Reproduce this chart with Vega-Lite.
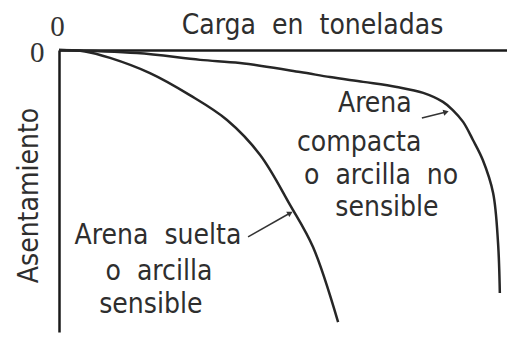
{
  "$schema": "https://vega.github.io/schema/vega-lite/v6.json",
  "width": 448,
  "height": 282,
  "autosize": "none",
  "padding": {"left": 59, "top": 50, "right": 0, "bottom": 6},
  "background": "white",
  "config": {"view": {"stroke": null}},
  "datasets": {
    "curvas": [
      {"curva": "suelta", "orden": 0, "carga": 0, "asentamiento": 0},
      {"curva": "suelta", "orden": 1, "carga": 5.8, "asentamiento": 0.5},
      {"curva": "suelta", "orden": 2, "carga": 11.4, "asentamiento": 2.8},
      {"curva": "suelta", "orden": 3, "carga": 20.3, "asentamiento": 8.2},
      {"curva": "suelta", "orden": 4, "carga": 29.2, "asentamiento": 16.0},
      {"curva": "suelta", "orden": 5, "carga": 37.5, "asentamiento": 24.8},
      {"curva": "suelta", "orden": 6, "carga": 44.9, "asentamiento": 37.2},
      {"curva": "suelta", "orden": 7, "carga": 51.6, "asentamiento": 55.0},
      {"curva": "suelta", "orden": 8, "carga": 56.7, "asentamiento": 69.9},
      {"curva": "suelta", "orden": 9, "carga": 62.3, "asentamiento": 96.5},
      {"curva": "compacta", "orden": 0, "carga": 0, "asentamiento": 0},
      {"curva": "compacta", "orden": 1, "carga": 17.4, "asentamiento": 1.1},
      {"curva": "compacta", "orden": 2, "carga": 31.5, "asentamiento": 3.5},
      {"curva": "compacta", "orden": 3, "carga": 40.4, "asentamiento": 4.6},
      {"curva": "compacta", "orden": 4, "carga": 53.8, "asentamiento": 7.8},
      {"curva": "compacta", "orden": 5, "carga": 60.5, "asentamiento": 9.6},
      {"curva": "compacta", "orden": 6, "carga": 67.9, "asentamiento": 11.3},
      {"curva": "compacta", "orden": 7, "carga": 75.4, "asentamiento": 13.1},
      {"curva": "compacta", "orden": 8, "carga": 81.3, "asentamiento": 15.2},
      {"curva": "compacta", "orden": 9, "carga": 85.7, "asentamiento": 18.4},
      {"curva": "compacta", "orden": 10, "carga": 87.9, "asentamiento": 21.3},
      {"curva": "compacta", "orden": 11, "carga": 90.2, "asentamiento": 25.5},
      {"curva": "compacta", "orden": 12, "carga": 92.4, "asentamiento": 31.9},
      {"curva": "compacta", "orden": 13, "carga": 94.6, "asentamiento": 39.0},
      {"curva": "compacta", "orden": 14, "carga": 96.9, "asentamiento": 50.7},
      {"curva": "compacta", "orden": 15, "carga": 98.0, "asentamiento": 68.4},
      {"curva": "compacta", "orden": 16, "carga": 98.4, "asentamiento": 86.2}
    ],
    "textos": [
      {"texto": "Arena", "carga": 70.5, "asentamiento": 19.3},
      {"texto": "compacta", "carga": 67.0, "asentamiento": 33.0},
      {"texto": "o\u00a0 arcilla\u00a0 no", "carga": 71.9, "asentamiento": 44.7},
      {"texto": "sensible", "carga": 73.2, "asentamiento": 56.0},
      {"texto": "Arena\u00a0 suelta", "carga": 22.1, "asentamiento": 66.0},
      {"texto": "o\u00a0 arcilla", "carga": 22.3, "asentamiento": 78.7},
      {"texto": "sensible", "carga": 20.5, "asentamiento": 90.4}
    ],
    "flechas": [
      {"carga": 42.2, "asentamiento": 66.3, "carga2": 51.6, "asentamiento2": 57.8, "angulo": 330},
      {"carga": 81.0, "asentamiento": 24.1, "carga2": 86.4, "asentamiento2": 22.0, "angulo": 345}
    ]
  },
  "layer": [
    {
      "data": {"name": "curvas"},
      "mark": {"type": "line", "interpolate": "catmull-rom", "color": "#262626", "strokeWidth": 2.5},
      "encoding": {
        "x": {
          "field": "carga", "type": "quantitative",
          "scale": {"domain": [0, 100], "nice": false},
          "axis": {
            "orient": "top", "values": [0], "grid": false, "ticks": false,
            "domainColor": "#1a1a1a", "domainWidth": 2.5, "labelFlush": false,
            "labelFont": "Liberation Serif", "labelFontSize": 29, "labelColor": "#333",
            "labelPadding": 15, "labelBaseline": "alphabetic", "labelOffset": -2,
            "title": "Carga\u00a0 en\u00a0 toneladas", "titleFont": "DejaVu Sans Condensed",
            "titleFontSize": 28, "titleFontWeight": "normal", "titleColor": "#2e2e2e",
            "titleX": 253, "titleY": -25, "titleBaseline": "middle", "titleAlign": "center"
          }
        },
        "y": {
          "field": "asentamiento", "type": "quantitative",
          "scale": {"domain": [0, 100], "nice": false, "reverse": true},
          "axis": {
            "values": [0], "grid": false, "ticks": false,
            "domainColor": "#1a1a1a", "domainWidth": 2.5, "labelFlush": false,
            "labelFont": "Liberation Serif", "labelFontSize": 29, "labelColor": "#333",
            "labelPadding": 15, "labelBaseline": "middle", "labelOffset": 2,
            "title": "Asentamiento", "titleFont": "DejaVu Sans Condensed",
            "titleFontSize": 28, "titleFontWeight": "normal", "titleColor": "#2e2e2e",
            "titleX": -30, "titleY": 145, "titleAngle": 270,
            "titleBaseline": "middle", "titleAlign": "center"
          }
        },
        "detail": {"field": "curva"},
        "order": {"field": "orden", "type": "quantitative"}
      }
    },
    {
      "data": {"name": "textos"},
      "mark": {"type": "text", "font": "DejaVu Sans Condensed", "fontSize": 28, "fontWeight": "normal", "color": "#2e2e2e", "align": "center", "baseline": "middle"},
      "encoding": {
        "x": {"field": "carga", "type": "quantitative"},
        "y": {"field": "asentamiento", "type": "quantitative"},
        "text": {"field": "texto"}
      }
    },
    {
      "data": {"name": "flechas"},
      "mark": {"type": "rule", "color": "#333", "strokeWidth": 1.5},
      "encoding": {
        "x": {"field": "carga", "type": "quantitative"},
        "y": {"field": "asentamiento", "type": "quantitative"},
        "x2": {"field": "carga2"},
        "y2": {"field": "asentamiento2"}
      }
    },
    {
      "data": {"name": "flechas"},
      "mark": {"type": "point", "shape": "triangle-right", "filled": true, "color": "#333", "size": 40, "opacity": 1},
      "encoding": {
        "x": {"field": "carga2", "type": "quantitative"},
        "y": {"field": "asentamiento2", "type": "quantitative"},
        "angle": {"field": "angulo", "type": "quantitative", "scale": null}
      }
    }
  ]
}
